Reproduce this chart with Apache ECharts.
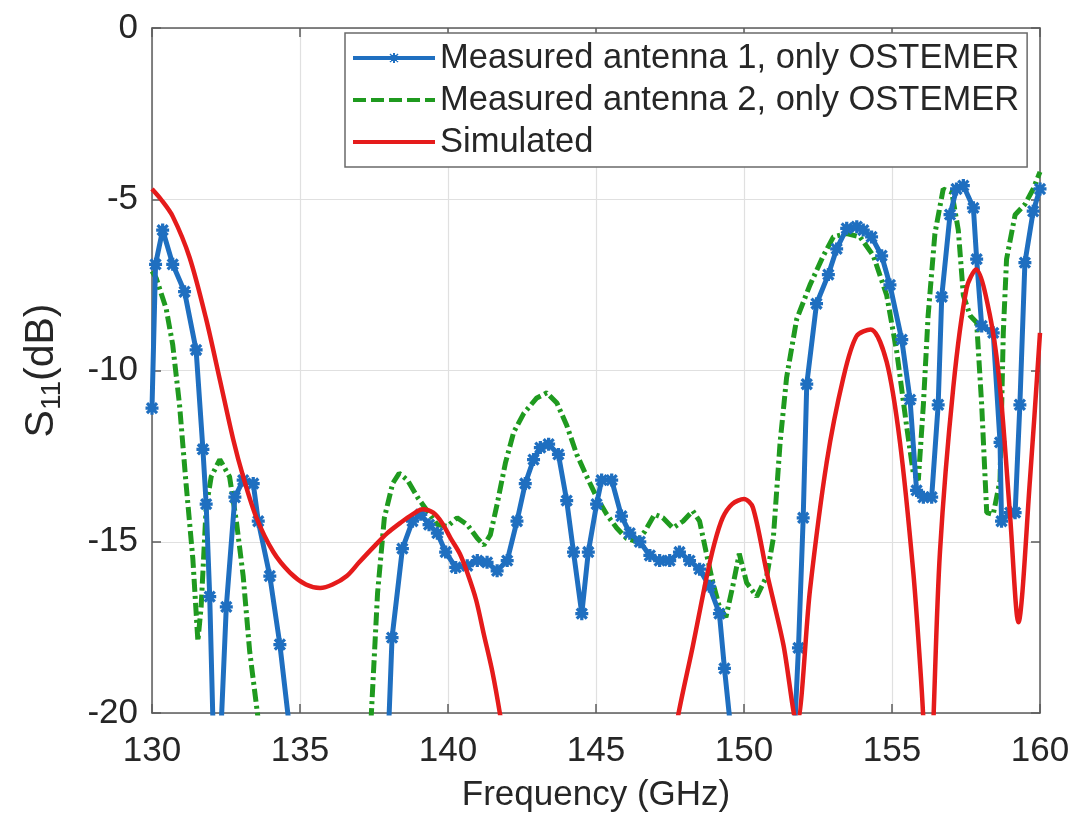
<!DOCTYPE html>
<html>
<head>
<meta charset="utf-8">
<script src="https://cdn.jsdelivr.net/npm/echarts@6/dist/echarts.min.js"></script>
<style>
html,body{margin:0;padding:0;background:#fff;}
#chart{width:1075px;height:818px;}
</style>
</head>
<body>
<div id="chart"></div>
<script>
// ---- data (frequency in GHz, S11 in dB) ----
const seriesNames = ['Measured antenna 1, only OSTEMER', 'Measured antenna 2, only OSTEMER', 'Simulated'];
const xTicks = [130, 135, 140, 145, 150, 155, 160];
const yTicks = [-20, -15, -10, -5, 0];

const freq1 = [130.0,130.12,130.36,130.7,131.1,131.49,131.72,131.83,131.95,132.06,132.2,132.34,132.51,132.8,133.08,133.42,133.59,133.98,134.32,134.6,136.3,138.0,138.11,138.46,138.8,139.08,139.36,139.64,139.92,140.26,140.65,140.99,141.32,141.66,142.0,142.33,142.61,142.89,143.12,143.4,143.73,144.01,144.24,144.52,144.74,145.02,145.19,145.53,145.86,146.14,146.48,146.82,147.15,147.49,147.82,148.16,148.5,148.83,149.17,149.34,149.52,150.6,151.72,151.84,152.0,152.12,152.45,152.85,153.13,153.47,153.81,154.03,154.31,154.65,154.93,155.33,155.61,155.83,156.06,156.34,156.56,156.68,156.96,157.18,157.41,157.75,157.86,158.03,158.42,158.65,158.7,158.99,159.16,159.32,159.49,159.77,160.0];
const s11m1 = [-11.1,-6.9,-5.9,-6.9,-7.7,-9.4,-12.3,-13.9,-16.6,-20.3,-23,-20.3,-16.9,-13.7,-13.2,-13.3,-14.4,-16.0,-18.0,-20.1,-30,-20.3,-17.8,-15.2,-14.4,-14.2,-14.5,-14.75,-15.3,-15.75,-15.7,-15.55,-15.6,-15.85,-15.55,-14.4,-13.3,-12.6,-12.25,-12.15,-12.45,-13.8,-15.3,-17.1,-15.3,-13.9,-13.2,-13.2,-14.25,-14.75,-15.0,-15.4,-15.55,-15.55,-15.3,-15.55,-15.8,-16.3,-17.1,-18.7,-20.2,-26,-20.3,-18.1,-14.3,-10.4,-8.05,-7.2,-6.45,-5.85,-5.8,-5.9,-6.1,-6.65,-7.5,-9.1,-10.85,-13.5,-13.7,-13.7,-11.0,-7.85,-5.45,-4.7,-4.6,-5.25,-6.75,-8.7,-8.9,-12.1,-14.4,-14.15,-14.15,-11.0,-6.85,-5.35,-4.7];

const freq2 = [130.0,130.14,130.48,130.7,130.93,131.15,131.38,131.55,131.66,131.83,132.0,132.29,132.62,132.85,133.08,133.3,133.59,135.5,137.4,137.62,137.85,138.13,138.35,138.63,138.97,139.3,139.64,139.98,140.31,140.65,140.99,141.21,141.43,141.66,141.94,142.22,142.56,143.0,143.34,143.68,144.01,144.35,144.69,145.02,145.36,145.7,146.03,146.37,146.65,146.98,147.26,147.6,147.94,148.27,148.5,148.72,148.95,149.17,149.39,149.62,149.84,150.09,150.43,150.77,150.99,151.22,151.44,151.78,152.23,152.68,153.02,153.47,153.92,154.37,154.82,155.16,155.49,155.72,155.89,156.06,156.22,156.45,156.73,157.02,157.24,157.41,157.64,157.86,158.03,158.2,158.42,158.65,158.76,158.87,159.16,159.49,159.77,160.0];
const s11m2 = [-7.1,-7.3,-8.2,-9.25,-11.0,-13.3,-15.5,-17.9,-16.9,-14.0,-13.1,-12.6,-13.1,-14.4,-16.0,-18.2,-20.2,-28,-20.2,-16.5,-14.3,-13.3,-13.0,-13.2,-13.7,-14.1,-14.5,-14.55,-14.3,-14.5,-14.9,-15.1,-14.8,-13.9,-12.7,-11.8,-11.25,-10.8,-10.65,-10.95,-11.6,-12.45,-13.1,-13.7,-14.2,-14.6,-14.9,-15.0,-14.7,-14.2,-14.3,-14.6,-14.4,-14.1,-14.4,-15.3,-16.2,-16.9,-17.2,-16.3,-15.35,-16.2,-16.6,-16.0,-14.9,-12.1,-10.2,-8.5,-7.5,-6.65,-6.1,-6.0,-6.1,-6.65,-7.8,-9.45,-11.6,-13.0,-13.2,-11.0,-8.4,-6.0,-4.7,-4.8,-5.9,-7.8,-8.4,-8.6,-11.0,-14.15,-14.2,-13.2,-8.9,-6.75,-5.45,-5.15,-4.7,-4.2];

const freqSim = [130.0,130.3,130.7,131.27,131.83,132.3,132.74,133.08,133.53,134.1,134.66,135.2,135.68,136.1,136.58,137.0,137.49,137.95,138.39,138.8,139.15,139.5,139.8,140.09,140.4,140.65,140.95,141.21,141.5,141.77,142.5,147.0,147.77,148.27,148.72,149.0,149.28,149.6,150.0,150.3,150.77,151.33,151.78,152.23,152.79,153.36,153.8,154.28,154.82,155.27,155.72,155.95,156.06,156.25,156.4,156.62,157.07,157.52,157.84,158.31,158.65,158.99,159.27,159.66,160.0];
const s11Sim = [-4.7,-5.0,-5.5,-6.7,-8.5,-10.3,-12.0,-13.1,-14.3,-15.3,-15.9,-16.25,-16.35,-16.25,-16.0,-15.6,-15.15,-14.75,-14.45,-14.2,-14.05,-14.15,-14.45,-14.9,-15.35,-15.9,-16.7,-17.7,-18.8,-20.1,-24,-24,-20.1,-18.05,-16.1,-15.05,-14.3,-13.9,-13.75,-14.0,-15.9,-18.0,-20.3,-16.4,-12.7,-10.2,-9.0,-8.8,-9.75,-12.1,-15.9,-18.6,-20.2,-24,-20.2,-15.3,-10.5,-7.6,-7.05,-8.4,-10.5,-14.25,-17.35,-13.2,-8.9];

function pairs(xs, ys) { return xs.map((x, i) => [x, ys[i]]); }

const FONT = 'Liberation Sans, Arial, sans-serif';
const TXT = '#262626';
const AX = '#5c5c5c';
const C1 = '#1f6fc0', C2 = '#1f9a1f', C3 = '#e51b1b';
const asterisk = 'path://M0 7.5H20V12.5H0Z M7.5 0H12.5V20H7.5Z M0.5 4L4 0.5L19.5 16L16 19.5Z M16 0.5L19.5 4L4 19.5L0.5 16Z';
const icon1 = 'path://M0 5H82V9H0Z M36 6H46V8H36Z M40 2H42V12H40Z M36.5 3.5L37.5 2.5L45.5 10.5L44.5 11.5Z M44.5 2.5L45.5 3.5L37.5 11.5L36.5 10.5Z M38 4H44V10H38Z';
const icon2 = 'path://M0 5H13V9H0Z M18 5H31V9H18Z M36 5H49V9H36Z M54 5H67V9H54Z M72 5H82V9H72Z';
const icon3 = 'path://M0 5H82V9H0Z';

const chart = echarts.init(document.getElementById('chart'), null, {renderer: 'canvas'});

const baseX = {type: 'value', min: xTicks[0], max: xTicks[xTicks.length - 1], interval: 5};
const baseY = {type: 'value', min: yTicks[0], max: yTicks[yTicks.length - 1], interval: 5};
const axLine = {show: true, onZero: false, lineStyle: {color: AX, width: 1.5}};
const axTick = {show: true, inside: true, length: 9, lineStyle: {color: AX, width: 1.5}};

chart.setOption({
  animation: false,
  backgroundColor: '#fff',
  textStyle: {fontFamily: FONT},
  grid: {left: 152, right: 35, top: 28, bottom: 105, containLabel: false},
  xAxis: [
    Object.assign({}, baseX, {
      position: 'bottom',
      name: 'Frequency (GHz)', nameLocation: 'middle', nameGap: 65,
      nameTextStyle: {fontSize: 35, color: TXT, fontFamily: FONT},
      axisLine: axLine, axisTick: axTick,
      axisLabel: {fontSize: 35, color: TXT, margin: 21, fontFamily: FONT},
      splitLine: {show: true, lineStyle: {color: '#e0e0e0', width: 1.2}}
    }),
    Object.assign({}, baseX, {
      position: 'top',
      axisLine: axLine, axisTick: axTick,
      axisLabel: {show: false}, splitLine: {show: false}
    })
  ],
  yAxis: [
    Object.assign({}, baseY, {
      position: 'left',
      name: '{a|S}{b|11}{a|(dB)}', nameLocation: 'middle', nameGap: 86, nameRotate: 90,
      nameTextStyle: {
        color: TXT, fontFamily: FONT,
        rich: {
          a: {fontSize: 41, color: TXT, fontFamily: FONT},
          b: {fontSize: 28, color: TXT, fontFamily: FONT, verticalAlign: 'bottom', padding: [20, 0, 0, 0]}
        }
      },
      axisLine: axLine, axisTick: axTick,
      axisLabel: {fontSize: 35, color: TXT, margin: 14, fontFamily: FONT},
      splitLine: {show: true, lineStyle: {color: '#e0e0e0', width: 1.2}}
    }),
    Object.assign({}, baseY, {
      position: 'right',
      axisLine: axLine, axisTick: axTick,
      axisLabel: {show: false}, splitLine: {show: false}
    })
  ],
  legend: {
    orient: 'vertical',
    left: 345, top: 33,
    padding: [4, 8, 4, 8],
    itemWidth: 82, itemHeight: 14, itemGap: 0,
    backgroundColor: '#fff',
    borderColor: '#6a6a6a', borderWidth: 1.5,
    itemStyle: {borderWidth: 0},
    textStyle: {fontSize: 34.5, color: TXT, fontFamily: FONT, lineHeight: 42},
    data: [
      {name: seriesNames[0], icon: icon1},
      {name: seriesNames[1], icon: icon2},
      {name: seriesNames[2], icon: icon3}
    ]
  },
  series: [
    {
      name: seriesNames[0], type: 'line', xAxisIndex: 0, yAxisIndex: 0,
      data: pairs(freq1, s11m1), clip: true, z: 3,
      symbol: asterisk, symbolSize: 13, showSymbol: true,
      itemStyle: {color: C1, borderWidth: 0},
      lineStyle: {color: C1, width: 5}
    },
    {
      name: seriesNames[1], type: 'line', xAxisIndex: 0, yAxisIndex: 0,
      data: pairs(freq2, s11m2), clip: true, z: 2,
      symbol: 'none', showSymbol: false,
      itemStyle: {color: C2},
      lineStyle: {color: C2, width: 5, type: [13, 4, 3, 4]}
    },
    {
      name: seriesNames[2], type: 'line', xAxisIndex: 0, yAxisIndex: 0,
      data: pairs(freqSim, s11Sim), clip: true, z: 4,
      symbol: 'none', showSymbol: false, smooth: 0.3,
      itemStyle: {color: C3},
      lineStyle: {color: C3, width: 4.5}
    }
  ]
});
</script>
</body>
</html>
